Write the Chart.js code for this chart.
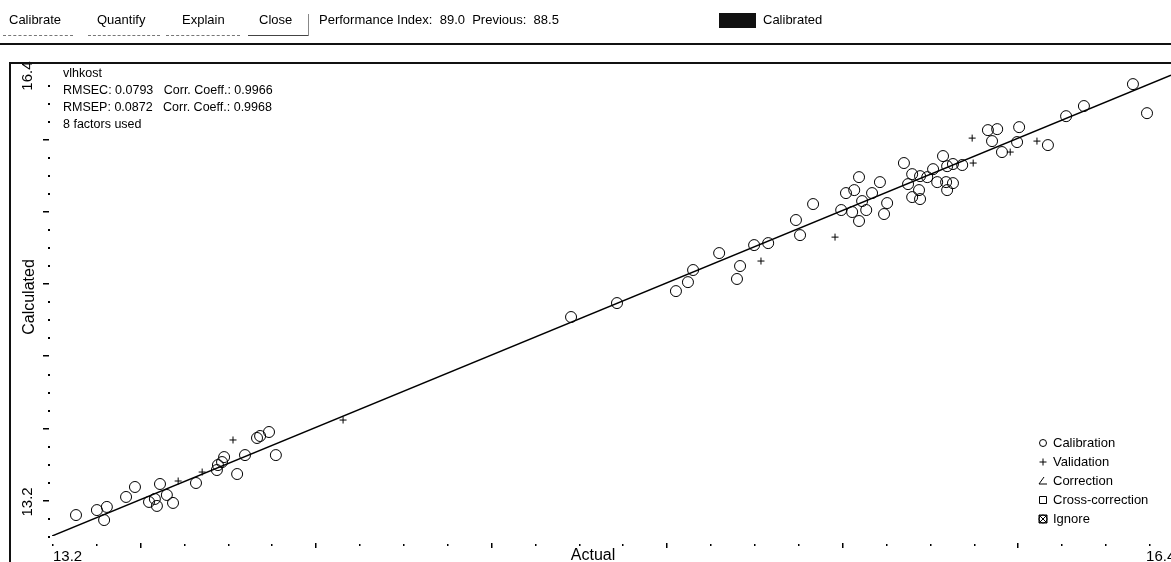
<!DOCTYPE html>
<html>
<head>
<meta charset="utf-8">
<script src="https://cdn.jsdelivr.net/npm/chart.js@4.4.1/dist/chart.umd.min.js"></script>
<style>
  body { margin: 0; background: #fff; font-family: "Liberation Sans", Arial, sans-serif; }
  #wrap { position: relative; width: 1171px; height: 562px; overflow: hidden; }
  #chart { position: absolute; left: 0; top: 0; }
  .tb { position: absolute; top: 12px; font-size: 13px; color: #000; white-space: pre; z-index: 2; }
  .ul { position: absolute; top: 35px; height: 0; border-top: 1px dashed #777; z-index: 2; }
  .hl { position: absolute; background: #111; z-index: 2; }
</style>
</head>
<body>
<div id="wrap">
  <canvas id="chart" width="1171" height="562"></canvas>
  <div class="tb" style="left:9px">Calibrate</div>
  <div class="tb" style="left:97px">Quantify</div>
  <div class="tb" style="left:182px">Explain</div>
  <div class="tb" style="left:259px">Close</div>
  <div class="tb" style="left:319px">Performance Index:  89.0  Previous:  88.5</div>
  <div class="hl" style="left:719px; top:13px; width:37px; height:15px"></div>
  <div class="tb" style="left:763px">Calibrated</div>
  <div class="ul" style="left:3px; width:70px"></div>
  <div class="ul" style="left:88px; width:72px"></div>
  <div class="ul" style="left:166px; width:74px"></div>
  <div class="ul" style="left:248px; width:61px; border-top:1px solid #444"></div>
  <div class="hl" style="left:308px; top:14px; width:1px; height:22px; background:#888"></div>
  <div class="hl" style="left:0; top:43px; width:1171px; height:2px"></div>
  <div class="hl" style="left:10px; top:62px; width:1161px; height:1.5px"></div>
  <div class="hl" style="left:9px; top:62px; width:2px; height:500px"></div>
</div>
<script>
// calibration samples: actual vs calculated
const calActual = [
  13.270, 13.331, 13.360, 13.352, 13.416, 13.442, 13.515, 13.483, 13.506, 13.500,
  13.535, 13.553, 13.620, 13.681, 13.696, 13.702, 13.684, 13.740, 13.763, 13.798,
  13.807, 13.833, 13.853,
  14.714, 14.848, 15.020, 15.055, 15.070, 15.146, 15.207, 15.198, 15.248, 15.289,
  15.370, 15.382, 15.420, 15.502, 15.516, 15.554, 15.540, 15.563, 15.534, 15.575,
  15.554, 15.592, 15.615, 15.636, 15.627, 15.685, 15.709, 15.697, 15.732, 15.753,
  15.709, 15.732, 15.729, 15.770, 15.782, 15.799, 15.811, 15.808, 15.811, 15.828,
  15.828, 15.855,
  15.930, 15.957, 15.942, 15.971, 16.021, 16.015, 16.105, 16.158, 16.210, 16.353,
  16.394
];
const calCalculated = [
  13.347, 13.382, 13.404, 13.312, 13.474, 13.544, 13.565, 13.439, 13.411, 13.460,
  13.488, 13.432, 13.572, 13.663, 13.719, 13.754, 13.698, 13.635, 13.768, 13.888,
  13.902, 13.930, 13.768,
  14.737, 14.835, 14.919, 14.982, 15.067, 15.186, 15.095, 15.004, 15.242, 15.256,
  15.418, 15.312, 15.530, 15.488, 15.607, 15.719, 15.628, 15.551, 15.474, 15.488,
  15.411, 15.607, 15.684, 15.537, 15.460, 15.818, 15.740, 15.670, 15.726, 15.719,
  15.579, 15.565, 15.628, 15.775, 15.684, 15.867, 15.796, 15.684, 15.628, 15.677,
  15.811, 15.804,
  16.049, 16.056, 15.972, 15.895, 16.070, 15.965, 15.944, 16.147, 16.218, 16.372,
  16.168
];
// validation samples
const valActual = [13.568, 13.638, 13.728, 14.049, 15.268, 15.484, 15.884, 15.887, 15.995, 16.073];
const valCalculated = [13.586, 13.649, 13.874, 14.014, 15.130, 15.298, 15.993, 15.818, 15.895, 15.972];
// regression line end points
const fitActual = [13.2, 16.464];
const fitCalculated = [13.2, 16.435];

const axisMin = 13.2;
const axisMax = 16.464;
const xTickStep = 0.128;
const yTickStep = 0.1267;
const tickCount = 25;
const xTickLabels = ['13.2', '16.4'];
const yTickLabels = ['13.2', '16.4'];
const xTitle = 'Actual';
const yTitle = 'Calculated';
const infoLines = [
  'vlhkost',
  'RMSEC: 0.0793   Corr. Coeff.: 0.9966',
  'RMSEP: 0.0872   Corr. Coeff.: 0.9968',
  '8 factors used'
];
const legendNames = ['Calibration', 'Validation', 'Correction', 'Cross-correction', 'Ignore'];

const toPoints = (xs, ys) => xs.map((v, i) => ({ x: v, y: ys[i] }));
const FONT = '"Liberation Sans", Arial, sans-serif';

// ticks, labels, info text and legend drawn from the chart's scales
const decor = {
  id: 'decor',
  afterDraw(chart) {
    const { ctx, chartArea: ca, scales: { x, y } } = chart;
    ctx.save();
    ctx.fillStyle = '#000';
    ctx.strokeStyle = '#000';

    for (let i = 0; i <= tickCount; i++) {
      const big = i % 4 === 2;
      const px = Math.round(x.getPixelForValue(axisMin + i * xTickStep));
      ctx.fillRect(px, ca.bottom + (big ? 7 : 8), 1.5, big ? 5 : 2);
      const py = Math.round(y.getPixelForValue(axisMin + i * yTickStep));
      if (big) ctx.fillRect(ca.left - 9, py, 6, 1.5);
      else ctx.fillRect(ca.left - 4, py, 2, 2);
    }

    ctx.font = '15px ' + FONT;
    ctx.textBaseline = 'top';
    ctx.textAlign = 'left';
    ctx.fillText(xTickLabels[0], x.getPixelForValue(axisMin) + 1, ca.bottom + 13);
    ctx.fillText(xTickLabels[1], x.getPixelForValue(16.4) - 3, ca.bottom + 13);
    ctx.font = '16px ' + FONT;
    ctx.textAlign = 'center';
    ctx.fillText(xTitle, 593, ca.bottom + 12);

    const rot = (txt, cx, cy, f) => {
      ctx.save();
      ctx.translate(cx, cy);
      ctx.rotate(-Math.PI / 2);
      ctx.font = f;
      ctx.textAlign = 'center';
      ctx.textBaseline = 'middle';
      ctx.fillText(txt, 0, 0);
      ctx.restore();
    };
    rot(yTickLabels[0], 28, y.getPixelForValue(axisMin + 2 * yTickStep) + 2, '15px ' + FONT);
    rot(yTickLabels[1], 28, y.getPixelForValue(16.4) - 4, '15px ' + FONT);
    rot(yTitle, 30, 297, '16px ' + FONT);

    ctx.font = '12.5px ' + FONT;
    ctx.textAlign = 'left';
    ctx.textBaseline = 'middle';
    infoLines.forEach((t, i) => ctx.fillText(t, ca.left + 11, ca.top + 3 + i * 17));

    // legend
    const lx = 1043, ly = ca.bottom - 93;
    ctx.font = '13px ' + FONT;
    ctx.lineWidth = 1;
    legendNames.forEach((t, i) => {
      const cy = ly + i * 19;
      ctx.fillText(t, lx + 10, cy);
      ctx.beginPath();
      if (i === 0) { ctx.arc(lx, cy, 3.5, 0, Math.PI * 2); }
      if (i === 1) { ctx.moveTo(lx - 3.5, cy); ctx.lineTo(lx + 3.5, cy); ctx.moveTo(lx, cy - 3.5); ctx.lineTo(lx, cy + 3.5); }
      if (i === 2) { ctx.moveTo(lx + 1, cy - 4); ctx.lineTo(lx - 4, cy + 3); ctx.lineTo(lx + 4, cy + 3); }
      if (i === 3) { ctx.rect(lx - 3.5, cy - 3.5, 7, 7); }
      if (i === 4) {
        ctx.arc(lx, cy, 4, 0, Math.PI * 2);
        ctx.moveTo(lx - 4, cy - 4); ctx.lineTo(lx + 4, cy + 4);
        ctx.moveTo(lx + 4, cy - 4); ctx.lineTo(lx - 4, cy + 4);
        ctx.rect(lx - 4, cy - 4, 8, 8);
      }
      ctx.stroke();
    });
    ctx.restore();
  }
};

new Chart(document.getElementById('chart'), {
  type: 'scatter',
  data: {
    datasets: [
      {
        label: 'Fit',
        data: toPoints(fitActual, fitCalculated),
        showLine: true,
        borderColor: '#000',
        borderWidth: 1.5,
        pointRadius: 0,
        order: 3
      },
      {
        label: 'Calibration',
        data: toPoints(calActual, calCalculated),
        pointStyle: 'circle',
        pointRadius: 5.5,
        borderColor: '#000',
        borderWidth: 1,
        backgroundColor: 'rgba(0,0,0,0)',
        clip: false,
        order: 1
      },
      {
        label: 'Validation',
        data: toPoints(valActual, valCalculated),
        pointStyle: 'cross',
        pointRadius: 3.5,
        borderColor: '#000',
        borderWidth: 1,
        clip: false,
        order: 2
      }
    ]
  },
  options: {
    responsive: false,
    animation: false,
    events: [],
    layout: { autoPadding: false, padding: { left: 52, right: 0, top: 71, bottom: 26 } },
    scales: {
      x: { type: 'linear', min: axisMin, max: axisMax, display: false },
      y: { type: 'linear', min: axisMin, max: axisMax, display: false }
    },
    plugins: {
      legend: { display: false },
      tooltip: { enabled: false }
    }
  },
  plugins: [decor]
});
</script>
</body>
</html>
